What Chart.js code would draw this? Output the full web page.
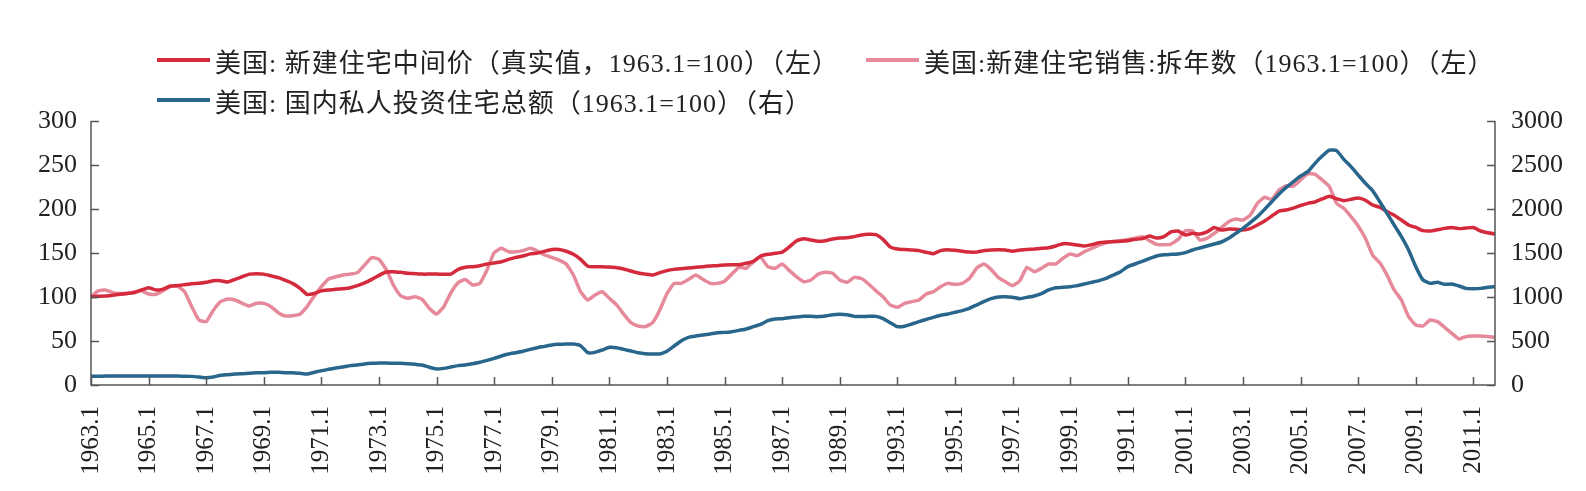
<!DOCTYPE html>
<html lang="zh-CN">
<head>
<meta charset="UTF-8">
<title>美国新建住宅价格、销售与住宅投资</title>
<style>
    body { margin: 0; background: #fff; }
    .wrap { position: relative; width: 1586px; height: 491px; }
    #chart { position: absolute; left: 0; top: 0; }
    .legend-item {
        position: absolute;
        display: flex;
        align-items: center;
        height: 30px;
        font-family: 'Liberation Serif', 'Noto Sans CJK SC', serif;
        font-size: 26px;
        letter-spacing: 1px;
        color: #222;
        white-space: nowrap;
    }
    .legend-item i { display: inline-block; width: 53px; height: 4px; margin-right: 5px; }
</style>
<script src="https://cdn.jsdelivr.net/npm/chart.js"></script>
</head>
<body>
<div class="wrap">
    <canvas id="chart" width="1586" height="491"></canvas>
    <div id="legend"></div>
</div>
<script>
// x 轴刻度文字（照原图，含原图中的标注）
const tickLabels = ['1963.1', '1965.1', '1967.1', '1969.1', '1971.1', '1973.1', '1975.1', '1977.1',
    '1979.1', '1981.1', '1983.1', '1985.1', '1987.1', '1989.1', '1993.1', '1995.1', '1997.1',
    '1999.1', '1991.1', '2001.1', '2003.1', '2005.1', '2007.1', '2009.1', '2011.1'];

// 季度数据 1963Q1 - 2011Q4
const medianPriceReal = [
    100.4, 100.8, 101, 102, 103, 104, 105, 108, 110.6, 108,
    109, 112.5, 113, 114, 115, 115.5, 116.7, 118.5, 118.5, 117,
    120, 123, 126, 126.5, 126, 124, 122, 119, 115.5, 110,
    103, 104, 107, 108, 108.7, 109.5, 110.6, 113, 116, 120,
    124.6, 128.4, 128.8, 128, 127, 126.5, 126, 126, 126, 125.8,
    126, 131.4, 133.7, 134.5, 135.6, 137.5, 138.6, 140, 142.8, 145,
    146.6, 149, 150, 152, 154, 154, 152, 148.5, 142.8, 135,
    134.5, 134.5, 134, 133.3, 131.8, 129.5, 127.3, 126, 125, 127.7,
    130, 131.4, 132.2, 133, 133.7, 134.5, 135.2, 135.6, 136.4, 136.7,
    136.7, 138.3, 140.5, 146.6, 148.5, 149.6, 151, 157, 164, 166.3,
    164.8, 163.3, 164, 166, 167, 167.4, 168.6, 170.5, 171.2, 170.8,
    165.5, 157, 154.5, 154, 153.4, 152.7, 150.8, 149.2, 152.7, 153.8,
    153, 152, 151, 151, 152.7, 153.4, 153.8, 153.4, 152, 153.4,
    154, 154.5, 155.3, 156, 158, 160.6, 160.2, 159, 158, 159.5,
    161.7, 162.5, 162.9, 163.3, 164, 165.5, 166.3, 169.3, 167, 168.6,
    173.9, 175, 170.5, 172.3, 171.6, 173.9, 179, 176, 177.3, 177,
    176, 177.7, 181.8, 186.4, 192, 197.7, 198.9, 201, 204, 206.4,
    208, 211.4, 214.4, 211.7, 209.5, 211, 212.5, 210, 204.5, 202,
    197, 193, 187.5, 181.8, 179, 175.4, 175, 176.5, 178, 179,
    177.7, 178.4, 179, 175, 173, 171.6
];
const newHomeSales = [
    100, 107, 108, 105, 104, 104, 105.7, 107, 103.4, 103,
    107, 111.7, 112.5, 106, 89, 73.9, 72, 85, 94.7, 97.7,
    96.6, 92.8, 89.8, 92.8, 92.8, 89, 82.2, 78.4, 78.8, 80.3,
    89, 101, 111.7, 120.5, 123, 125, 126, 127.7, 136.4, 144.7,
    142.8, 131.4, 113.6, 101.5, 98.5, 100.4, 97.3, 87, 80.7, 89,
    105, 116.3, 120, 113.6, 115.5, 130.7, 150.4, 155.3, 151.5, 151.5,
    152.7, 155.3, 152.3, 147.7, 145, 142, 137.5, 125, 106, 96.6,
    102.3, 106, 98.5, 91, 80.3, 70.8, 67, 66.3, 70.8, 85.2,
    104, 115.5, 115.5, 120, 125, 120, 115.5, 115.5, 118, 126,
    133.7, 132.6, 140, 145, 134.5, 132.6, 137.5, 130, 123, 117.4,
    119.3, 126, 128, 127, 119.3, 116.7, 122.3, 121, 114.8, 107.2,
    100.4, 91, 88.3, 92.8, 94.7, 96.6, 103.4, 106, 111.7, 115.5,
    114.4, 115.5, 121, 132.6, 137.5, 131.4, 122.3, 117.4, 113, 118.5,
    133.7, 128.8, 132.6, 137.5, 137.5, 144, 148.9, 147, 151.5, 155.3,
    159, 161.7, 163.3, 164, 165.5, 166.7, 168.6, 164, 159.8, 159.5,
    160.2, 165.5, 175.4, 175, 164.8, 166.7, 172.3, 178.8, 185.6, 188.6,
    187.5, 193, 206.4, 213.3, 211, 221.6, 226.5, 226, 233, 239.8,
    239.4, 233, 225.4, 206.4, 200.8, 191.3, 180.7, 166.7, 147.7, 139,
    125, 108, 96.6, 77.7, 68.2, 67, 73.9, 72, 65.5, 58.7,
    52.3, 55, 55.7, 55.7, 55, 54.2
];
const residentialInvest = [
    100, 100, 101, 101, 101, 102, 102, 102, 102, 102,
    102, 101, 101, 100, 98, 91, 83, 91, 110, 117,
    125, 129, 133, 140, 140, 144, 144, 140, 140, 133,
    125, 144, 163, 178, 193, 205, 220, 227, 239, 246,
    250, 250, 246, 246, 242, 235, 227, 201, 182, 189,
    205, 220, 227, 242, 258, 280, 303, 330, 352, 367,
    383, 405, 424, 439, 455, 462, 466, 466, 447, 367,
    371, 398, 428, 424, 405, 386, 367, 356, 352, 352,
    383, 443, 504, 542, 557, 568, 580, 595, 598, 606,
    621, 636, 663, 689, 731, 750, 754, 765, 773, 780,
    780, 777, 784, 799, 803, 799, 780, 777, 780, 780,
    754, 708, 663, 667, 693, 720, 746, 769, 792, 807,
    826, 845, 871, 909, 947, 981, 1000, 1004, 996, 981,
    996, 1011, 1038, 1080, 1106, 1110, 1117, 1129, 1148, 1167,
    1186, 1212, 1250, 1288, 1345, 1375, 1405, 1436, 1466, 1481,
    1485, 1489, 1504, 1534, 1557, 1580, 1602, 1625, 1667, 1723,
    1780, 1845, 1913, 1996, 2083, 2170, 2246, 2311, 2375, 2424,
    2519, 2602, 2670, 2663, 2564, 2481, 2386, 2292, 2208, 2083,
    1951, 1818, 1686, 1534, 1345, 1193, 1155, 1167, 1144, 1148,
    1125, 1098, 1095, 1098, 1110, 1117
];

const seriesNames = [
    '美国: 新建住宅中间价（真实值，1963.1=100）（左）',
    '美国:新建住宅销售:拆年数（1963.1=100）（左）',
    '美国: 国内私人投资住宅总额（1963.1=100）（右）'
];

// 季度标签
const quarters = [];
for (let y = 1963; y <= 2011; y++) {
    [1, 4, 7, 10].forEach(m => quarters.push(y + '.' + m));
}

const colors = ['#d42a3c', '#e6899a', '#28668c'];
const tickFont = { family: "'Liberation Serif', 'Times New Roman', serif", size: 26 };

// 图例（两行，照原图摆放）
const legendPos = [[157, 45], [866, 45], [157, 85]];
const legendBox = document.getElementById('legend');
seriesNames.forEach((name, i) => {
    const div = document.createElement('div');
    div.className = 'legend-item';
    div.style.left = legendPos[i][0] + 'px';
    div.style.top = legendPos[i][1] + 'px';
    div.innerHTML = '<i style="background:' + colors[i] + '"></i>' + name;
    legendBox.appendChild(div);
});

// 坐标轴线与朝内的刻度线
const innerTicks = {
    id: 'innerTicks',
    afterDraw(chart) {
        const { ctx, chartArea: a, scales } = chart;
        ctx.save();
        ctx.strokeStyle = '#555';
        ctx.lineWidth = 1.5;
        ctx.beginPath();
        ctx.moveTo(a.left, a.top);
        ctx.lineTo(a.left, a.bottom);
        ctx.lineTo(a.right, a.bottom);
        ctx.lineTo(a.right, a.top);
        scales.y.ticks.forEach((t, i) => {
            const y = Math.round(scales.y.getPixelForTick(i)) + 0.5;
            ctx.moveTo(a.left, y);
            ctx.lineTo(a.left + 8, y);
        });
        scales.y1.ticks.forEach((t, i) => {
            const y = Math.round(scales.y1.getPixelForTick(i)) + 0.5;
            ctx.moveTo(a.right, y);
            ctx.lineTo(a.right - 8, y);
        });
        scales.x.ticks.forEach((t, i) => {
            if (t.value % 8 !== 0) return;
            const x = Math.round(scales.x.getPixelForTick(i)) + 0.5;
            ctx.moveTo(x, a.bottom);
            ctx.lineTo(x, a.bottom - 8);
        });
        ctx.stroke();
        ctx.restore();
    }
};

new Chart(document.getElementById('chart'), {
    type: 'line',
    data: {
        labels: quarters,
        datasets: [
            { label: seriesNames[0], data: medianPriceReal, yAxisID: 'y', borderColor: colors[0], order: 1 },
            { label: seriesNames[1], data: newHomeSales, yAxisID: 'y', borderColor: colors[1], order: 2 },
            { label: seriesNames[2], data: residentialInvest, yAxisID: 'y1', borderColor: colors[2], order: 0 }
        ].map(d => Object.assign(d, { borderWidth: 3.5, pointRadius: 0, tension: 0.15, fill: false }))
    },
    options: {
        responsive: false,
        animation: false,
        layout: { padding: { top: 121 } },
        plugins: { legend: { display: false }, tooltip: { enabled: false } },
        scales: {
            x: {
                type: 'category',
                offset: false,
                grid: { display: false, drawTicks: false },
                border: { display: false },
                ticks: {
                    autoSkip: false,
                    minRotation: 90,
                    maxRotation: 90,
                    padding: 21,
                    color: '#222',
                    font: { family: tickFont.family, size: 25 },
                    callback: (v, i) => (i % 8 === 0 ? tickLabels[i / 8] : null)
                },
                afterFit: s => { s.height = 106; }
            },
            y: {
                position: 'left',
                min: 0, max: 300,
                grid: { display: false, drawTicks: false },
                border: { display: false },
                ticks: { stepSize: 50, padding: 14, color: '#222', font: tickFont },
                afterFit: s => { s.width = 91; }
            },
            y1: {
                position: 'right',
                min: 0, max: 3000,
                grid: { display: false, drawTicks: false },
                border: { display: false },
                ticks: { stepSize: 500, padding: 16, color: '#222', font: tickFont, callback: v => String(v) },
                afterFit: s => { s.width = 91; }
            }
        }
    },
    plugins: [innerTicks]
});
</script>
</body>
</html>
